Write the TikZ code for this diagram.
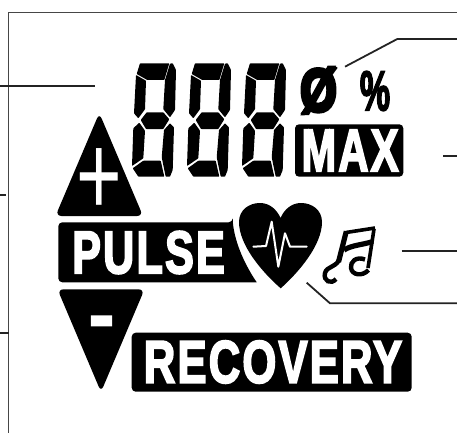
\documentclass[tikz,border=0pt]{standalone}
\usepackage{fontspec}
\setmainfont{Liberation Sans}
\newfontface\lcdfont{Liberation Sans Bold}[FakeBold=3.5,LetterSpace=5]
\newfontface\ringfont{Liberation Sans Bold}[FakeBold=7]
\definecolor{LeadClr}{RGB}{35,35,35}
\definecolor{FrameClr}{RGB}{70,70,70}

\begin{document}
\begin{tikzpicture}[x=1pt,y=-1pt,
  lead/.style={color=LeadClr,line width=1.8pt},
  frameline/.style={color=FrameClr,line width=0.9pt},
  badge/.style={fill=black,rounded corners=4pt},
  tri/.style={fill=black,rounded corners=6pt},
  seg/.style={fill=black,rounded corners=0.6pt},
  note/.style={line width=4.4pt},
  lbl/.style={text=white,font=\lcdfont\fontsize{20}{20}\selectfont,inner sep=0pt}]
\useasboundingbox (0,0) rectangle (457,433);

\draw[frameline] (457,12.7) -- (8.5,12.7) -- (8.5,433);

\foreach \dx in {0,55,110}{
\begin{scope}[xshift=\dx pt]
\fill[seg] (140,63.3) -- (169.3,63.3) -- (164.3,80) -- (147.3,80) -- (136.7,74) -- cycle;
\fill[seg] (170,63.6) -- (172.7,63.3) -- (176,70) -- (175,110) -- (170,117.3) -- (163.3,109.3) -- (165,80) -- cycle;
\fill[seg] (136,75) -- (146,80.7) -- (145,109.3) -- (138.3,118.3) -- (134,113.3) -- cycle;
\fill[seg] (146.7,112.3) -- (163.3,112.3) -- (169.3,119.3) -- (163.3,129) -- (146,129) -- (140.7,120) -- cycle;
\fill[seg] (139.3,122.7) -- (145,130.7) -- (143.3,158.3) -- (132,166) -- (133.3,128.3) -- cycle;
\fill[seg] (164,130) -- (170,123.3) -- (174,127.3) -- (172.7,170) -- (170,176.7) -- (165.7,176.7) -- (161.7,157.3) -- cycle;
\fill[seg] (143.3,160.7) -- (160.7,160.7) -- (164.3,176.7) -- (138.3,176.7) -- (132.7,168.3) -- cycle;
\end{scope}
}

\node[lbl,text=black,font=\ringfont\fontsize{20}{20}\selectfont,xscale=2.35,yscale=3] (zero) at (318.5,90.5) {Ø};
\draw[line width=2.8pt] (301.7,114.3) -- (336.5,67);
\node[lbl,text=black,xscale=1.7,yscale=2.8] (percent) at (375,91) {\%};

\fill[badge] (295,124.3) rectangle (403.3,176.7);
\node[lbl,xscale=2.09,yscale=2.98] (max) at (350,150.5) {MAX};

\fill[tri] (99.3,113) -- (143,216) -- (55.5,216) -- cycle;
\node[inner sep=0pt,text=white,font=\fontsize{20}{20}\selectfont,xscale=3.9,yscale=5.8] (plus) at (99.5,182) {+};

\fill (232.7,222.3) .. controls (236,245) and (245,265) .. (256.7,282.3)
  [rounded corners=4pt] -- (58.3,282.3) -- (58.3,222.3) -- (232.7,222.3) -- cycle;
\node[lbl,xscale=2.16,yscale=3] (pulse) at (148.5,252.5) {PULSE};

\fill (280.7,288.3) .. controls (262,272) and (239,245) .. (239,222)
  .. controls (239,210) and (249,203) .. (260,203)
  .. controls (270,203) and (277,210) .. (280.5,218)
  .. controls (284,210) and (291,203) .. (301,203)
  .. controls (312,203) and (322,210) .. (322,222)
  .. controls (322,245) and (299,272) .. (280.7,288.3) -- cycle;
\draw[white,line width=2pt,line join=round,line cap=round]
  (253.3,246.7) -- (266,246) -- (271.7,221.7) -- (278.3,266.7) -- (285,233.3) -- (290,246.7) -- (306.7,246.7);

\draw[line width=5.2pt] (338.5,262) -- (346.3,231.3);
\draw[line width=3.6pt] (368,268) -- (374,229);
\draw[line width=3.6pt] (346,232.5) -- (375,228);
\draw[line width=5.2pt] (344,250) .. controls (352,245) and (362,245) .. (373,241.5);
\draw[note] (339,260) .. controls (335,268) and (327,266) .. (325,273)
  .. controls (323,281) and (331,285) .. (336,279);
\draw[note] (365,259.5) .. controls (356,256) and (350,262) .. (351,268)
  .. controls (352,275) and (362,277) .. (368.5,270);

\fill[tri] (57.5,289.3) -- (144.5,289.3) -- (101,392) -- cycle;
\node[lbl,xscale=3.7,yscale=3.6] (minus) at (101.5,328) {-};

\fill[badge] (131.7,332.7) rectangle (411.7,391.7);
\node[lbl,xscale=2.18,yscale=3] (recovery) at (273,362) {RECOVERY};

\coordinate (a1) at (345,66.7);
\coordinate (a2) at (397.3,39);
\coordinate (a3) at (457,39);
\coordinate (b1) at (443.3,156);
\coordinate (b2) at (457,156);
\coordinate (c1) at (401.7,250.7);
\coordinate (c2) at (457,250.7);
\coordinate (d1) at (306.7,282.7);
\coordinate (d2) at (330,303.3);
\coordinate (d3) at (457,303.3);
\coordinate (e1) at (0,86);
\coordinate (e2) at (95,86);
\coordinate (f1) at (0,195);
\coordinate (f2) at (6,195);
\coordinate (g1) at (0,333);
\coordinate (g2) at (8.5,333);

\draw[lead] (a1) -- (a2) -- (a3);
\draw[lead] (b1) -- (b2);
\draw[lead] (c1) -- (c2);
\draw[lead] (d1) -- (d2) -- (d3);
\draw[lead] (e1) -- (e2);
\draw[lead] (f1) -- (f2);
\draw[lead] (g1) -- (g2);

\end{tikzpicture}
\end{document}
